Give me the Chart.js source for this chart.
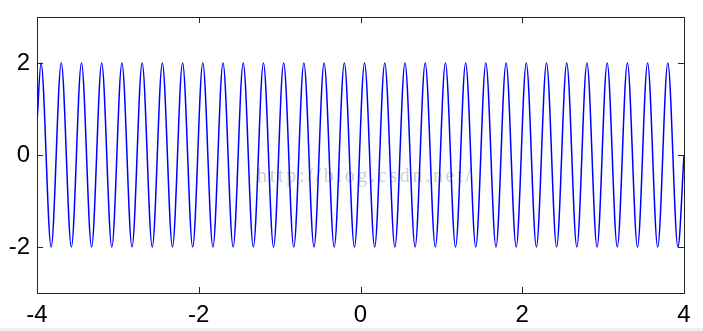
<!DOCTYPE html>
<html>
<head>
<meta charset="utf-8">
<script src="https://cdn.jsdelivr.net/npm/chart.js@4"></script>
<style>
html, body { margin: 0; padding: 0; background: #fff; }
#wrap { width: 703px; height: 331px; position: relative; }
#wrap::after { content: ""; position: absolute; left: 0; right: 0; bottom: 0; height: 3px; background: #eeeeee; }
</style>
</head>
<body>
<div id="wrap"><canvas id="c" width="703" height="331"></canvas></div>
<script>
// tick labels
const xTicks = [-4, -2, 0, 2, 4];
const yTicks = [-2, 0, 2];

// wave: crests at +2, troughs at -2
const peakX = [-3.95, -3.70, -3.45, -3.20, -2.95, -2.70, -2.45, -2.20, -1.95, -1.70, -1.45, -1.20, -0.95, -0.70, -0.45, -0.20,
               0.05, 0.30, 0.55, 0.80, 1.05, 1.30, 1.55, 1.80, 2.05, 2.30, 2.55, 2.80, 3.05, 3.30, 3.55, 3.80];
const troughX = [-3.825, -3.575, -3.325, -3.075, -2.825, -2.575, -2.325, -2.075, -1.825, -1.575, -1.325, -1.075, -0.825, -0.575, -0.325, -0.075,
                 0.175, 0.425, 0.675, 0.925, 1.175, 1.425, 1.675, 1.925, 2.175, 2.425, 2.675, 2.925, 3.175, 3.425, 3.675, 3.925];
const peakY = 2;
const troughY = -2;
const startPt = { x: -4, y: 0.7 };
const endPt = { x: 4, y: 0 };

const watermark = "http://blog.csdn.net/";

const points = [startPt]
    .concat(peakX.map(x => ({ x, y: peakY })))
    .concat(troughX.map(x => ({ x, y: troughY })))
    .concat([endPt])
    .sort((a, b) => a.x - b.x);

const tickFont = { family: "'Liberation Sans', Arial, sans-serif", size: 24 };

const framePlugin = {
    id: 'frame',
    beforeDatasetsDraw(chart) {
        const ctx = chart.ctx;
        ctx.save();
        ctx.font = "20px 'Liberation Serif', serif";
        ctx.letterSpacing = '2.7px';
        ctx.fillStyle = '#cfcfcf';
        ctx.textBaseline = 'alphabetic';
        ctx.fillText(watermark, 257, 182);
        ctx.restore();
    },
    afterDraw(chart) {
        const { ctx, chartArea: a, scales } = chart;
        ctx.save();
        ctx.strokeStyle = '#262626';
        ctx.lineWidth = 1;
        ctx.strokeRect(Math.round(a.left) + 0.5, Math.round(a.top) + 0.5, Math.round(a.right - a.left), Math.round(a.bottom - a.top));
        const len = 6;
        ctx.beginPath();
        xTicks.forEach(v => {
            const px = Math.round(scales.x.getPixelForValue(v)) + 0.5;
            ctx.moveTo(px, a.bottom); ctx.lineTo(px, a.bottom - len);
            ctx.moveTo(px, a.top); ctx.lineTo(px, a.top + len);
        });
        yTicks.forEach(v => {
            const py = Math.round(scales.y.getPixelForValue(v)) + 0.5;
            ctx.moveTo(a.left, py); ctx.lineTo(a.left + len, py);
            ctx.moveTo(a.right, py); ctx.lineTo(a.right - len, py);
        });
        ctx.stroke();
        ctx.restore();
    }
};

new Chart(document.getElementById('c'), {
    type: 'line',
    data: {
        datasets: [{
            data: points,
            borderColor: '#0000ff',
            borderWidth: 1.5,
            pointRadius: 0,
            fill: false,
            cubicInterpolationMode: 'monotone'
        }]
    },
    options: {
        responsive: false,
        animation: false,
        events: [],
        layout: { padding: { top: 17, right: 19, left: 0, bottom: 0 } },
        plugins: { legend: { display: false }, tooltip: { enabled: false } },
        scales: {
            x: {
                type: 'linear', min: -4, max: 4,
                afterBuildTicks: s => { s.ticks = xTicks.map(v => ({ value: v })); },
                afterFit: s => { s.height = 38; s.paddingLeft = 0; s.paddingRight = 0; },
                grid: { display: false, drawTicks: false },
                border: { display: false },
                ticks: { color: '#000', font: tickFont, padding: 8, maxRotation: 0, autoSkip: false }
            },
            y: {
                type: 'linear', min: -3, max: 3,
                afterBuildTicks: s => { s.ticks = yTicks.map(v => ({ value: v })); },
                afterFit: s => { s.width = 37; s.paddingTop = 0; s.paddingBottom = 0; },
                grid: { display: false, drawTicks: false },
                border: { display: false },
                ticks: { color: '#000', font: tickFont, padding: 7, autoSkip: false }
            }
        }
    },
    plugins: [framePlugin]
});
</script>
</body>
</html>
